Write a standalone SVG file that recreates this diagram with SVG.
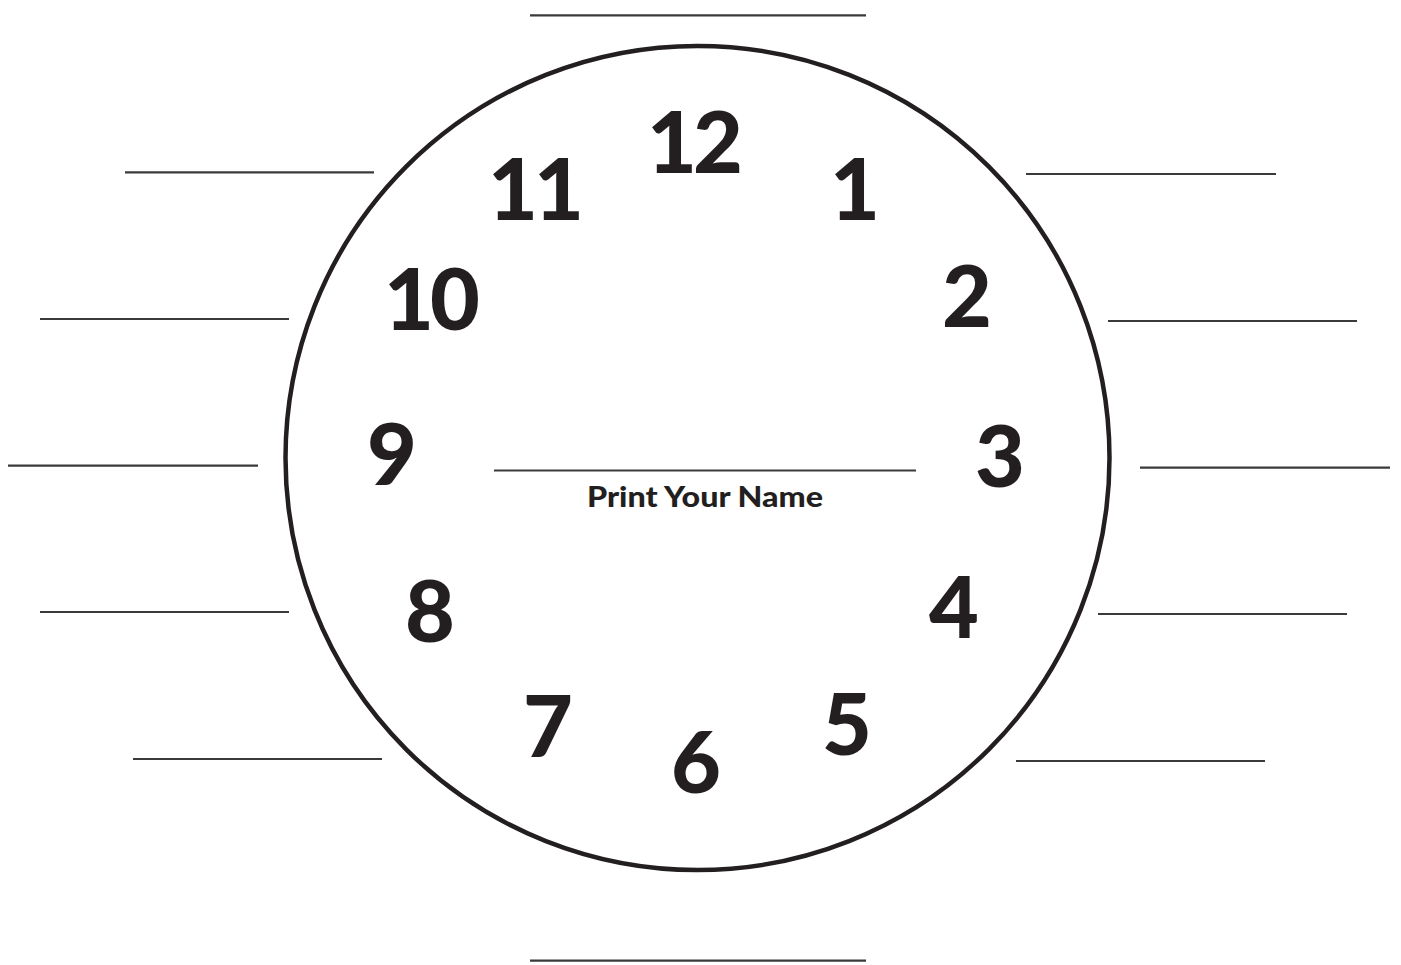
<svg xmlns="http://www.w3.org/2000/svg" width="1401" height="965" viewBox="0 0 1401 965">
<style>
.blank{stroke:#3a3a3a;stroke-width:2.2;fill:none}
.num{font-family:"Lato","Liberation Sans",sans-serif;font-weight:900;font-size:86px;fill:#231f20;text-anchor:middle}
.two{letter-spacing:-4px}
.label{font-family:"Lato","Liberation Sans",sans-serif;font-weight:900;font-size:29px;fill:#231f20}
</style>
<rect width="1401" height="965" fill="#fff"/>
<g id="clock-face">
<circle cx="697.5" cy="458" r="412" fill="none" stroke="#231f20" stroke-width="4.5"/>
</g>
<g id="numbers">
<text class="num two" x="693" y="173">12</text>
<text class="num two" x="534" y="220">11</text>
<text class="num" x="855" y="220">1</text>
<text class="num two" x="430" y="330">10</text>
<text class="num" x="967" y="327">2</text>
<text class="num" x="392" y="485">9</text>
<text class="num" x="1000" y="487">3</text>
<text class="num" x="430" y="642">8</text>
<text class="num" x="954" y="638">4</text>
<text class="num" x="548" y="757">7</text>
<text class="num" x="847" y="755">5</text>
<text class="num" x="696" y="793">6</text>
</g>
<g id="name-field">
<line class="blank" x1="494" y1="470.5" x2="916" y2="470.5"/>
<text class="label" x="587" y="507" textLength="236" lengthAdjust="spacingAndGlyphs">Print Your Name</text>
</g>
<g id="answer-lines">
<line class="blank" x1="530" y1="15.3" x2="866" y2="15.3"/>
<line class="blank" x1="530" y1="960.7" x2="866" y2="960.7"/>
<line class="blank" x1="125" y1="172.3" x2="374" y2="172.3"/>
<line class="blank" x1="40" y1="319" x2="289" y2="319"/>
<line class="blank" x1="8" y1="465.7" x2="258" y2="465.7"/>
<line class="blank" x1="40" y1="612" x2="289" y2="612"/>
<line class="blank" x1="133" y1="759" x2="382" y2="759"/>
<line class="blank" x1="1026" y1="174" x2="1276" y2="174"/>
<line class="blank" x1="1108" y1="321" x2="1357" y2="321"/>
<line class="blank" x1="1140" y1="467.7" x2="1390" y2="467.7"/>
<line class="blank" x1="1098" y1="614" x2="1347" y2="614"/>
<line class="blank" x1="1016" y1="761" x2="1265" y2="761"/>
</g>
</svg>
